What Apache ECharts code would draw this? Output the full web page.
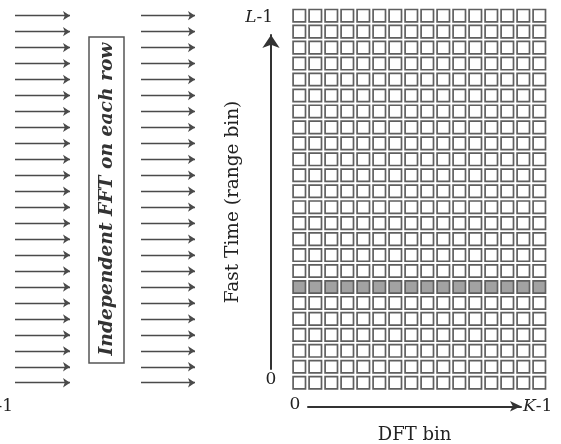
<!DOCTYPE html>
<html>
<head>
<meta charset="utf-8">
<script src="https://cdn.jsdelivr.net/npm/echarts@6/dist/echarts.min.js"></script>
<style>
html,body{margin:0;padding:0;background:#fff;}
#c{width:561px;height:444px;}
</style>
</head>
<body>
<div id="c"></div>
<script>
// DFT bins (columns) and range bins (rows)
const dftBins = [0,1,2,3,4,5,6,7,8,9,10,11,12,13,14,15];
const rangeBins = [0,1,2,3,4,5,6,7,8,9,10,11,12,13,14,15,16,17,18,19,20,21,22,23];
const highlightedRows = [6];
const boxLabel = 'Independent FFT on each row';
const xAxisName = 'DFT bin';
const yAxisName = 'Fast Time (range bin)';

const SERIF = '"DejaVu Serif", "Liberation Serif", serif';

const cellData = [];
rangeBins.forEach(function (r) {
  dftBins.forEach(function (k) {
    cellData.push([k, r, highlightedRows.indexOf(r) >= 0 ? 1 : 0]);
  });
});

const arrowData = [];
rangeBins.forEach(function (r) {
  arrowData.push({coords: [[15, r], [70, r]]});
  arrowData.push({coords: [[141, r], [195, r]]});
});

const chart = echarts.init(document.getElementById('c'), null, {renderer: 'canvas'});
const hidden = {show: false};
const rich = {i: {fontStyle: 'italic', fontFamily: SERIF, fontSize: 17, fill: '#222'}};
chart.setOption({
  animation: false,
  backgroundColor: '#fff',
  grid: [
    {left: 291.3, top: 7.7, width: 256, height: 383},
    {left: 0, top: 7.7, width: 561, height: 383},
    {left: 308, top: 406, width: 213, height: 1},
    {left: 271, top: 35, width: 1, height: 334}
  ],
  xAxis: [
    {gridIndex: 0, type: 'category', data: dftBins, show: false},
    {gridIndex: 1, type: 'value', min: 0, max: 561, show: false},
    {gridIndex: 2, type: 'value', min: 0, max: 1, position: 'bottom',
      axisLine: {show: true, symbol: ['none', 'arrow'], symbolSize: [8, 11],
        lineStyle: {color: '#333', width: 2}},
      axisTick: hidden, axisLabel: hidden, splitLine: hidden,
      name: xAxisName, nameLocation: 'middle', nameGap: 20,
      nameTextStyle: {fontFamily: SERIF, fontSize: 18, color: '#222'}},
    {gridIndex: 3, type: 'value', show: false}
  ],
  yAxis: [
    {gridIndex: 0, type: 'category', data: rangeBins, show: false},
    {gridIndex: 1, type: 'category', data: rangeBins, show: false},
    {gridIndex: 2, type: 'value', show: false},
    {gridIndex: 3, type: 'value', min: 0, max: 1, position: 'left',
      axisLine: {show: true, symbol: ['none', 'arrow'], symbolSize: [13, 13],
        lineStyle: {color: '#333', width: 2}},
      axisTick: hidden, axisLabel: hidden, splitLine: hidden,
      name: yAxisName, nameLocation: 'middle', nameGap: 28, nameRotate: 90,
      nameTextStyle: {fontFamily: SERIF, fontSize: 18.5, color: '#222'}}
  ],
  series: [
    {
      type: 'custom',
      xAxisIndex: 0, yAxisIndex: 0,
      data: cellData,
      renderItem: function (params, api) {
        const c = api.coord([api.value(0), api.value(1)]);
        const s = api.size([1, 1]);
        const w = s[0] - 3.6, h = s[1] - 3.6;
        return {
          type: 'rect',
          shape: {x: c[0] - w / 2, y: c[1] - h / 2, width: w, height: h},
          style: {fill: api.value(2) ? '#a2a2a2' : '#fff', stroke: '#5f5f5f', lineWidth: 1.7}
        };
      }
    },
    {
      type: 'lines',
      coordinateSystem: 'cartesian2d',
      xAxisIndex: 1, yAxisIndex: 1,
      symbol: ['none', 'arrow'],
      symbolSize: [6, 7],
      lineStyle: {color: '#4a4a4a', width: 1.3, opacity: 1},
      data: arrowData
    }
  ],
  graphic: [
    {type: 'rect', shape: {x: 89, y: 37, width: 35, height: 326},
      style: {fill: 'none', stroke: '#555', lineWidth: 1.5}},
    {type: 'text', x: 107, y: 199, rotation: Math.PI / 2,
      style: {text: boxLabel, align: 'center', verticalAlign: 'middle',
        font: 'italic bold 18.7px ' + SERIF, fill: '#333'}},
    {type: 'text', x: 273, y: 18,
      style: {text: '{i|L}-1', align: 'right', verticalAlign: 'middle',
        font: '17px ' + SERIF, fill: '#222', rich: rich}},
    {type: 'text', x: 271, y: 380,
      style: {text: '0', align: 'center', verticalAlign: 'middle', font: '17px ' + SERIF, fill: '#222'}},
    {type: 'text', x: 295, y: 405,
      style: {text: '0', align: 'center', verticalAlign: 'middle', font: '17px ' + SERIF, fill: '#222'}},
    {type: 'text', x: 523, y: 407,
      style: {text: '{i|K}-1', align: 'left', verticalAlign: 'middle',
        font: '17px ' + SERIF, fill: '#222', rich: rich}},
    {type: 'text', x: 13, y: 407,
      style: {text: '{i|L}-1', align: 'right', verticalAlign: 'middle',
        font: '17px ' + SERIF, fill: '#222', rich: rich}}
  ]
});
</script>
</body>
</html>
